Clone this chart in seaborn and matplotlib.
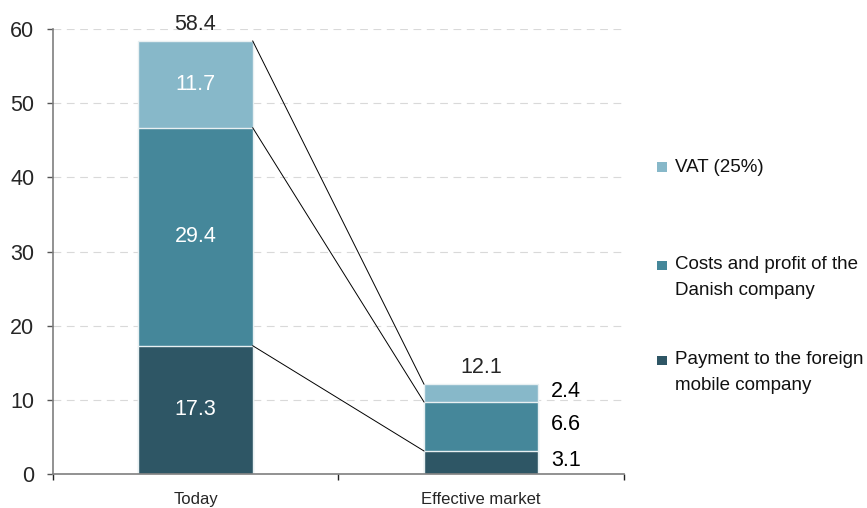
import matplotlib
matplotlib.use("Agg")
import matplotlib.pyplot as plt
import seaborn as sns
import numpy as np
import pandas as pd
from matplotlib.patches import Rectangle

# ---- data ----
categories = ["Today", "Effective market"]
payment_foreign = [17.3, 3.1]
costs_danish = [29.4, 6.6]
vat = [11.7, 2.4]
totals = [58.4, 12.1]
series_names = ["VAT (25%)", "Costs and profit of the\nDanish company",
                "Payment to the foreign\nmobile company"]
colors = ["#87B8C9", "#45879A", "#2E5665"]
y_ticks = [0, 10, 20, 30, 40, 50, 60]

sns.set_style("white")
plt.rcParams["font.family"] = ["Liberation Sans", "DejaVu Sans"]

W, H = 867, 508
fig = plt.figure(figsize=(W / 100, H / 100), dpi=100)
ax = fig.add_axes([52.7 / W, 34 / H, (624 - 52.7) / W, 445 / H])

lvl1 = np.array(payment_foreign)
lvl2 = lvl1 + np.array(costs_danish)
lvl3 = lvl2 + np.array(vat)
bar_w = 0.4

df = pd.DataFrame({"cat": categories, "l1": lvl1, "l2": lvl2, "l3": lvl3})
for col, c in [("l3", colors[0]), ("l2", colors[1]), ("l1", colors[2])]:
    sns.barplot(data=df, x="cat", y=col, color=c, width=bar_w, ax=ax,
                edgecolor="#E8F0F2", linewidth=1.0, saturation=1, zorder=2)

# connecting lines between stacks
for lv in (lvl1, lvl2, lvl3):
    ax.plot([0 + bar_w / 2, 1 - bar_w / 2], [lv[0], lv[1]], color="black",
            lw=0.7, zorder=3)

ax.set_xlim(-0.5, 1.5)
ax.set_ylim(0, 60)
ax.set_xlabel("")
ax.set_ylabel("")

# grid
for yt in y_ticks[1:]:
    ax.axhline(yt, color="#D9D9D9", lw=0.8, ls=(0, (7, 5)), zorder=0)

# axes styling
for s in ["top", "right"]:
    ax.spines[s].set_visible(False)
for s in ["left", "bottom"]:
    ax.spines[s].set_color("#7F7F7F")
    ax.spines[s].set_linewidth(1.2)

ax.set_yticks(y_ticks)
ax.set_yticklabels([str(v) for v in y_ticks], fontsize=15.5)
ax.tick_params(axis="y", direction="out", length=4.3, width=1, color="#555555",
               pad=9, left=True)
ax.set_xticks([-0.5, 0.5, 1.5])
ax.set_xticklabels(["", "", ""])
ax.tick_params(axis="x", which="major", direction="out", length=4.3, width=1,
               color="#222222", bottom=True)
ax.set_xticks([0, 1], minor=True)
ax.set_xticklabels(categories, minor=True, fontsize=12)
ax.tick_params(axis="x", which="minor", length=0, pad=13)

# value labels
segs = [(lvl2, vat), (lvl1, costs_danish), (np.zeros(2), payment_foreign)]
for bottom, vals in segs:
    # Today: inside, white
    ax.text(0, bottom[0] + vals[0] / 2, f"{vals[0]:.1f}", ha="center",
            va="center", color="white", fontsize=15.5, zorder=4)
    # Effective market: to the right, black
    ax.text(1 + bar_w / 2 + 0.045, bottom[1] + vals[1] / 2 + 0.25,
            f"{vals[1]:.1f}", ha="left", va="center", color="black",
            fontsize=15.5, zorder=4)

for i, t in enumerate(totals):
    ax.annotate(f"{t:.1f}", xy=(i, t), xytext=(0, 4.5), textcoords="offset points",
                ha="center", va="bottom", fontsize=15.5, annotation_clip=False)

# legend (manual, right side)
leg_y = [167, 277.5, 372.5]
sq_y = [167, 265.5, 360.5]
for name, c, ty, sy in zip(series_names, colors, leg_y, sq_y):
    fig.add_artist(Rectangle((657 / W, (H - sy - 4.75) / H), 9.5 / W, 9.5 / H,
                             transform=fig.transFigure, color=c, lw=0))
    fig.text(675 / W, (H - ty) / H, name, ha="left", va="center",
             fontsize=13.5, linespacing=1.62, color="#111111")

fig.savefig("out.png", dpi=100)
